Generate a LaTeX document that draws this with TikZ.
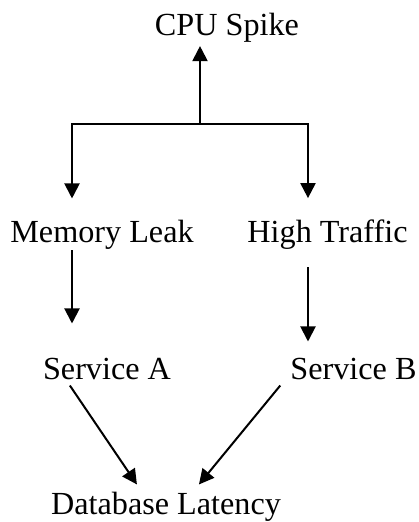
\documentclass[tikz,border=0pt]{standalone}
\usepackage{fontspec}
\setmainfont{Liberation Serif}
\usetikzlibrary{arrows.meta, calc}

\begin{document}
\begin{tikzpicture}[
  x=1pt, y=-1pt,
  lbl/.style={
    anchor=base, inner sep=0pt,
    font=\fontsize{32.2}{36}\selectfont
  },
  arr/.style={-{Triangle[width=15pt, length=15pt]}, draw=black, line width=2pt}
]
\useasboundingbox (0,0) rectangle (418,522);

% ── Nodos ─────────────────────────────────────────────────────
\node[lbl] (cpu)  at (227, 35)  {CPU Spike};
\node[lbl] (leak) at (102, 242) {Memory Leak};
\node[lbl] (traf) at (327.5, 242) {High Traffic};
\node[lbl] (sva)  at (107, 379) {Service A};
\node[lbl] (svb)  at (353.5, 379) {Service B};
\node[lbl] (db)   at (166, 514) {Database Latency};

% Puntos de apoyo
\coordinate (split) at (200, 124);
\coordinate (lx) at (72, 0);
\coordinate (rx) at (308, 0);

% ── Flechas ───────────────────────────────────────────────────

% split → CPU Spike (sube)
\draw[arr] (split) -- ($(split |- cpu.south)+(0,4)$);

% split → Memory Leak / High Traffic
\draw[arr] (split) -| ($(leak.north -| lx)+(0,-21)$);
\draw[arr] (split) -| ($(traf.north -| rx)+(0,-21)$);

% Memory Leak → Service A
\draw[arr] ($(leak.south -| lx)+(0,1)$) -- ($(sva.north -| lx)+(0,-34)$);

% High Traffic → Service B
\draw[arr] ($(traf.south -| rx)+(0,18)$) -- ($(svb.north -| rx)+(0,-16)$);

% Service A → Database Latency
\draw[arr] ($(sva.south west)+(27,6)$) -- ($(db.north west)+(86,-7)$);

% Service B → Database Latency
\draw[arr] ($(svb.south west)+(-10,6)$) -- ($(db.north west)+(148,-7)$);

\end{tikzpicture}
\end{document}
